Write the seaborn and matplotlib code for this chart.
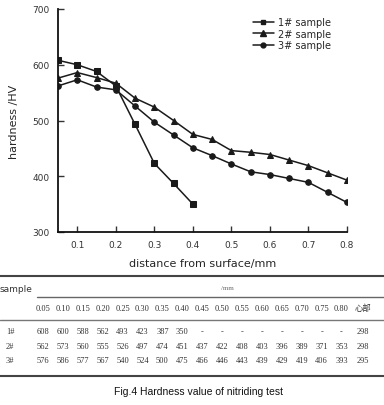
import matplotlib
matplotlib.use("Agg")
import matplotlib.pyplot as plt
import seaborn as sns
import pandas as pd
from matplotlib.lines import Line2D

# ---- data ----
x_full = [0.05, 0.10, 0.15, 0.20, 0.25, 0.30, 0.35, 0.40, 0.45, 0.50, 0.55, 0.60, 0.65, 0.70, 0.75, 0.80]
x_s1 = x_full[:8]
s1_vals = [608, 600, 588, 562, 493, 423, 387, 350]
s2_vals = [576, 586, 577, 567, 540, 524, 500, 475, 466, 446, 443, 439, 429, 419, 406, 393]   # triangles (as drawn)
s3_vals = [562, 573, 560, 555, 526, 497, 474, 451, 437, 422, 408, 403, 396, 389, 371, 353]   # circles (as drawn)
series_labels = ["1# sample", "2# sample", "3# sample"]

col_headers = ["0.05", "0.10", "0.15", "0.20", "0.25", "0.30", "0.35", "0.40", "0.45", "0.50",
               "0.55", "0.60", "0.65", "0.70", "0.75", "0.80", "心部"]
row_labels = ["1#", "2#", "3#"]
row1 = ["608", "600", "588", "562", "493", "423", "387", "350"] + ["-"] * 8 + ["298"]
row2 = ["562", "573", "560", "555", "526", "497", "474", "451", "437", "422", "408", "403", "396", "389", "371", "353", "298"]
row3 = ["576", "586", "577", "567", "540", "524", "500", "475", "466", "446", "443", "439", "429", "419", "406", "393", "295"]
table_rows = [row1, row2, row3]

sns.set_theme(style="ticks")
plt.rcParams['font.family'] = ['DejaVu Sans', 'Noto Sans CJK SC']

W, H = 384, 406
fig = plt.figure(figsize=(W / 100, H / 100), dpi=100)
ax = fig.add_axes([58 / W, 1 - 233 / H, (347 - 58) / W, (233 - 10) / H])

df1 = pd.DataFrame({"x": x_s1, "y": s1_vals})
df2 = pd.DataFrame({"x": x_full, "y": s2_vals})
df3 = pd.DataFrame({"x": x_full, "y": s3_vals})

c = "#1a1a1a"
sns.lineplot(data=df1, x="x", y="y", ax=ax, color=c, marker="s", markersize=4, lw=1.1, markeredgecolor=c)
sns.lineplot(data=df2, x="x", y="y", ax=ax, color=c, marker="^", markersize=5, lw=1.1, markeredgecolor=c)
sns.lineplot(data=df3, x="x", y="y", ax=ax, color=c, marker="o", markersize=4, lw=1.1, markeredgecolor=c)

ax.set_xlim(0.05, 0.8)
ax.set_ylim(300, 700)
ax.set_xticks([0.1, 0.2, 0.3, 0.4, 0.5, 0.6, 0.7, 0.8])
ax.set_xticklabels(["0.1", "0.2", "0.3", "0.4", "0.5", "0.6", "0.7", "0.8"])
ax.set_yticks([300, 400, 500, 600, 700])
ax.tick_params(direction="in", length=4, width=1, labelsize=6.5, colors="#333333", pad=6)
for s in ["top", "right"]:
    ax.spines[s].set_visible(False)
for s in ["left", "bottom"]:
    ax.spines[s].set_linewidth(1.3)
    ax.spines[s].set_color("#111111")
ax.set_xlabel("distance from surface/mm", fontsize=8, labelpad=6)
ax.set_ylabel("hardness /HV", fontsize=8, labelpad=10)

handles = [
    Line2D([], [], color=c, marker="s", markersize=3.5, lw=1.1),
    Line2D([], [], color=c, marker="^", markersize=4.5, lw=1.1),
    Line2D([], [], color=c, marker="o", markersize=3.5, lw=1.1),
]
ax.legend(handles, series_labels, loc="upper left", bbox_to_anchor=(0.66, 0.98), frameon=False,
          fontsize=7, handlelength=2.2, labelspacing=0.15, borderaxespad=0, handletextpad=0.4)

# ---- table ----
def fy(ypix):
    return 1 - ypix / H

fig.add_artist(Line2D([0, 1], [fy(277), fy(277)], transform=fig.transFigure, color="#444444", lw=1.5))
fig.add_artist(Line2D([37 / W, 1], [fy(298), fy(298)], transform=fig.transFigure, color="#666666", lw=1.0))
fig.add_artist(Line2D([0, 1], [fy(321), fy(321)], transform=fig.transFigure, color="#777777", lw=1.0))
fig.add_artist(Line2D([0, 1], [fy(377), fy(377)], transform=fig.transFigure, color="#444444", lw=1.5))

fig.text(0 / W, fy(290), "sample", fontsize=6.5, va="center", ha="left", color="#333333")
fig.text(227 / W, fy(288), "/mm", fontsize=5, va="center", ha="center", color="#666666",
         family=["Liberation Serif", "Noto Sans CJK SC"])

tfam = ["Liberation Serif", "Noto Sans CJK SC"]
col_x = [43 + 19.9 * i for i in range(16)] + [363]
for j, h in enumerate(col_headers):
    fig.text(col_x[j] / W, fy(309), h, fontsize=6, ha="center", va="center", color="#333333", family=tfam)
row_y = [332, 347, 361]
for i, (lab, row) in enumerate(zip(row_labels, table_rows)):
    fig.text(6 / W, fy(row_y[i]), lab, fontsize=6, ha="left", va="center", color="#333333", family=tfam)
    for j, v in enumerate(row):
        fig.text(col_x[j] / W, fy(row_y[i]), v, fontsize=6, ha="center", va="center", color="#333333", family=tfam)

fig.text(198 / W, fy(392), "Fig.4 Hardness value of nitriding test", fontsize=7.5, ha="center", va="center",
         color="#111111", family=["Liberation Sans Narrow", "Liberation Sans", "DejaVu Sans"])

fig.savefig("out.png", dpi=100, facecolor="white")
